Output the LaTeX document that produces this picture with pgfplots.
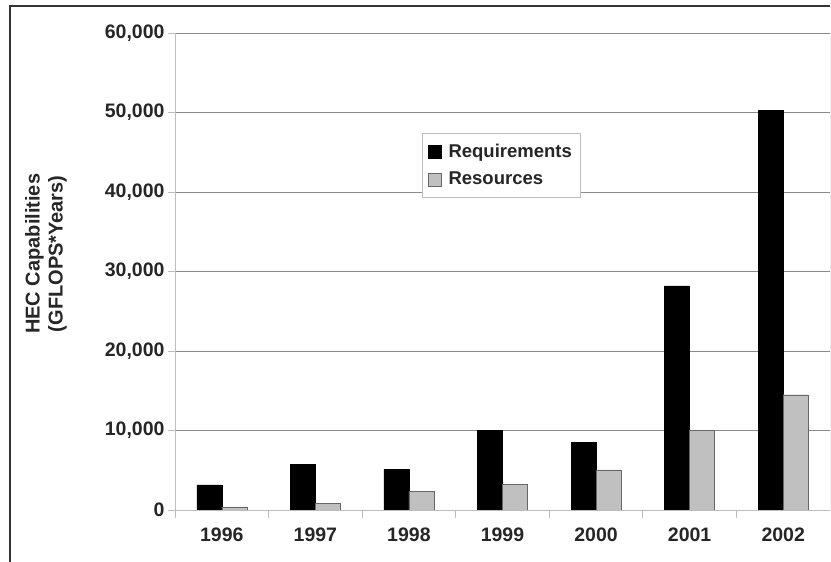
\documentclass[border=0pt]{standalone}
\usepackage{fontspec}
\setmainfont{Liberation Sans}
\usepackage{pgfplots}
\pgfplotsset{compat=1.18}
\definecolor{txt}{HTML}{262626}
\definecolor{resgray}{HTML}{C0C0C0}
\definecolor{gridgray}{HTML}{8A8A8A}
\definecolor{axgray}{HTML}{BDBDBD}
\newcommand\lbl{\fontsize{19.5bp}{23bp}\selectfont\bfseries}
\newcommand\ylbl{\fontsize{20bp}{23bp}\selectfont\bfseries}
\newcommand\leg{\fontsize{18.5bp}{22bp}\selectfont\bfseries}
\pgfplotsset{sqlegend/.style={legend image code/.code={\draw[##1] (0bp,-6.5bp) rectangle (13bp,6.5bp);}}}
\begin{document}
\begin{tikzpicture}[x=1bp,y=1bp]
\useasboundingbox (0,0) rectangle (831,562);
\draw[line width=1.3bp, black!80] (10,-2) -- (10,556) -- (830,556);
\begin{axis}[
  at={(175bp,52bp)}, anchor=south west,
  width=655bp, height=477bp, scale only axis,
  ybar=0pt, bar width=25bp,
  xmin=-0.5, xmax=6.5, ymin=0, ymax=60000,
  xtick={0,1,2,3,4,5,6},
  xticklabels={1996,1997,1998,1999,2000,2001,2002},
  minor xtick={-0.5,0.5,1.5,2.5,3.5,4.5,5.5},
  ytick={0,10000,20000,30000,40000,50000,60000},
  scaled y ticks=false,
  /pgf/number format/1000 sep={,},
  /pgf/number format/assume math mode=true,
  axis x line*=bottom, axis y line*=left,
  axis line style={axgray, line width=0.9bp},
  tick align=outside,
  major tick length=7bp, minor tick length=8bp,
  tick style={axgray, line width=0.9bp},
  major x tick style={draw=none},
  ymajorgrids, grid style={gridgray, line width=0.9bp},
  yticklabel style={font=\lbl, text=txt},
  xticklabel style={font=\lbl, text=txt, yshift=-7bp},
  ylabel={HEC Capabilities\\(GFLOPS*Years)},
  ylabel style={align=center, font=\ylbl, text=txt, at={(axis description cs:-0.197,0.537)}, anchor=center},
  legend style={at={(axis description cs:0.377,0.790)}, anchor=north west,
    draw=axgray, font=\leg, text=txt, inner xsep=6bp, inner ysep=9bp, row sep=9bp,
    /tikz/every odd column/.append style={column sep=5bp}},
  legend cell align=left,
]
\addplot[fill=black, draw=black, sqlegend] coordinates {(0,3150) (1,5700) (2,5100) (3,10000) (4,8500) (5,28200) (6,50300)};
\addplot[fill=resgray, draw=black!60, sqlegend] coordinates {(0,400) (1,850) (2,2350) (3,3250) (4,5050) (5,10000) (6,14500)};
\legend{Requirements,Resources}
\draw[gridgray!90, line width=0.9bp] (rel axis cs:1,0) -- (rel axis cs:1,1);
\end{axis}
\end{tikzpicture}
\end{document}
